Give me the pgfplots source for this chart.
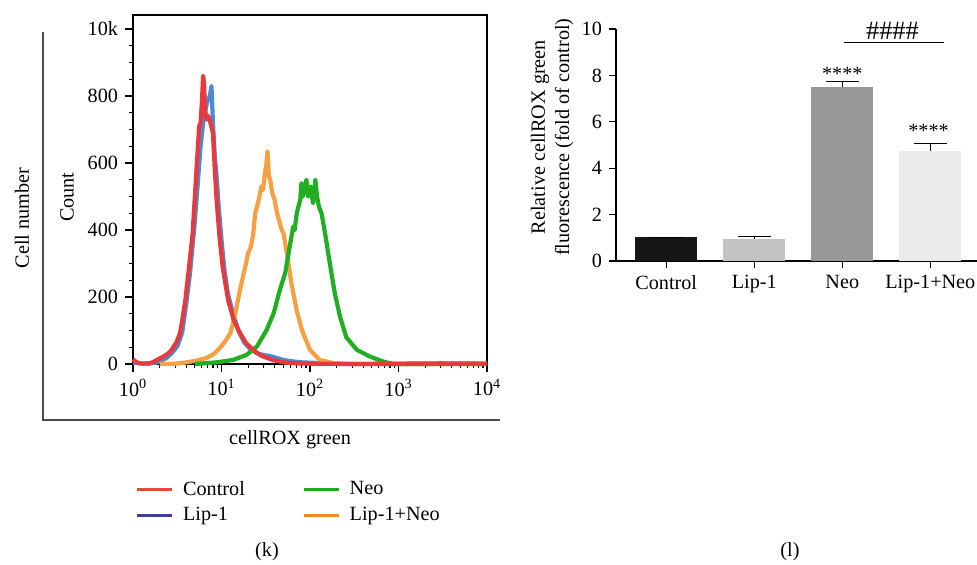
\documentclass[border=0pt]{standalone}
\usepackage{fontspec}
\setmainfont{Liberation Serif}
\usepackage{pgfplots}
\pgfplotsset{compat=1.18}

\definecolor{ctrlred}{HTML}{E63A3C}
\definecolor{lipblue}{HTML}{4C8AD6}
\definecolor{neogreen}{HTML}{22AE22}
\definecolor{combo}{HTML}{F5A043}
\definecolor{legred}{HTML}{E64A36}
\definecolor{legblue}{HTML}{3E3E9C}
\definecolor{leggreen}{HTML}{1EAA1E}
\definecolor{legorange}{HTML}{F08A1C}
\definecolor{barctrl}{HTML}{161616}
\definecolor{barlip}{HTML}{C2C2C3}
\definecolor{barneo}{HTML}{979797}
\definecolor{barcombo}{HTML}{EBEBEB}

\begin{document}
\fontsize{11.5}{13.8}\selectfont
\begin{tikzpicture}
\useasboundingbox (0,0) rectangle (19.54,-11.28);

% frame round panel k
\draw[black!70, line width=0.9pt] (0.86,-0.64) -- (0.86,-8.4) -- (10.0,-8.4);
\node[rotate=90] at (0.44,-4.36) {Cell number};
\node at (5.8,-8.8) {cellROX green};
\node at (5.34,-11.04) {(k)};
\node at (15.8,-11.04) {(l)};

% (k) histogram
\begin{axis}[
  at={(2.66cm,-7.28cm)}, anchor=south west,
  scale only axis, width=7.08cm, height=6.98cm,
  xmode=log, xmin=1, xmax=10000,
  ymin=0, ymax=1042,
  clip=false,
  axis line style={line width=0.7pt},
  tick align=outside, tick pos=left,
  major tick length=4.5pt, minor tick length=2.5pt,
  every tick/.style={black, line width=0.7pt},
  xtick={1,10,100,1000,10000},
  xticklabels={10\textsuperscript{0},10\textsuperscript{1},10\textsuperscript{2},10\textsuperscript{3},10\textsuperscript{4}},
  ytick={0,200,400,600,800,1000},
  yticklabels={0,200,400,600,800,10k},
  minor y tick num=3,
  ylabel={Count},
  ylabel style={at={(axis description cs:-0.186,0.478)}, anchor=center},
  legend columns=2, transpose legend,
  legend image code/.code={\draw[#1] (0cm,0cm) -- (0.7cm,0cm); \path (0.82cm,0cm);},
  legend style={draw=none, fill=none, at={(axis description cs:-0.008,-0.315)},
    anchor=north west, row sep=1pt,
    /tikz/every even column/.append style={column sep=1.08cm}},
  legend cell align=left,
]
% Lip-1 (drawn first, under Control)
\addplot[forget plot, lipblue, line width=2.4pt, line join=round] coordinates {
(1,4)(1.2,2)(1.5,1)(1.8,4)(2.0,8)(2.4,18)(2.8,35)(3.2,55)(3.6,95)(4.0,180)
(4.4,270)(4.9,400)(5.4,540)(5.8,650)(6.2,720)(6.6,760)(7.0,790)(7.4,800)
(7.7,830)(8.0,720)(8.4,620)(8.8,560)(9.3,470)(10,370)(10.8,280)(11.8,210)
(13.5,150)(15.5,100)(18,65)(21,45)(25,32)(30,27)(35,24)(42,18)(50,12)(63,8)
(80,5)(100,4)(150,2)(250,0)(1000,0)(10000,1)};
% Lip-1+Neo
\addplot[forget plot, combo, line width=2.4pt, line join=round] coordinates {
(2,0)(3,1)(4.05,5)(5.2,10)(6.76,18)(8.2,30)(9.55,47)(11,68)(12.6,92)(14.1,142)
(16.2,222)(18.6,292)(20,331)(21.5,350)(22.9,390)(24,450)(25.2,470)(26.3,490)
(27.3,510)(28.2,530)(29.5,520)(30.9,570)(32,590)(33.1,635)(34.2,560)(35.5,550)
(37.5,510)(39.8,490)(42.5,450)(45.7,420)(48,400)(50.1,390)(55,330)(61.7,240)
(70.8,160)(81.3,100)(100,42)(129,12)(182,3)(300,0)(10000,0)};
% Neo
\addplot[forget plot, neogreen, line width=2.4pt, line join=round] coordinates {
(5,0)(8.81,5)(13.5,12)(19.1,27)(25.1,52)(32.4,102)(38.9,152)(45.7,222)(52.5,272)
(58.9,350)(64.6,410)(67,400)(70.8,450)(74,470)(77.6,490)(80,540)(83,500)
(87.1,530)(91.2,550)(95,500)(98,520)(102,530)(108,480)(115,550)(120,500)
(126,470)(135,450)(148,390)(170,290)(191,210)(219,140)(257,80)(339,42)
(479,22)(676,7)(871,0)(10000,0)};
% Control
\addplot[forget plot, ctrlred, line width=2.4pt, line join=round] coordinates {
(1,14)(1.06,8)(1.15,3)(1.3,1)(1.5,2)(1.7,6)(1.86,12)(2.2,22)(2.5,32)(2.73,42)
(3.1,65)(3.4,92)(3.65,140)(3.9,190)(4.3,290)(4.72,390)(5.0,500)(5.24,590)
(5.6,710)(5.8,720)(6.0,780)(6.2,860)(6.35,840)(6.5,760)(6.8,730)(7.1,740)
(7.5,720)(8.0,690)(8.4,580)(8.8,490)(9.5,380)(10.3,290)(11.9,190)(13.8,130)
(16.2,92)(19,62)(22.8,42)(28,25)(38,12)(50,5)(70,2)(100,1)(300,0)(1000,1)
(3000,2)(10000,1)};
\addlegendimage{legred, line width=1.6pt}
\addlegendentry{Control}
\addlegendimage{legblue, line width=1.6pt}
\addlegendentry{Lip-1}
\addlegendimage{leggreen, line width=1.6pt}
\addlegendentry{Neo}
\addlegendimage{legorange, line width=1.6pt}
\addlegendentry{Lip-1+Neo}
\end{axis}

% (l) bar chart
\begin{axis}[
  at={(12.32cm,-5.22cm)}, anchor=south west,
  scale only axis, width=7.22cm, height=4.64cm,
  xmin=-0.57, xmax=3.53, ymin=0, ymax=10,
  axis lines=left, axis line style={-, line width=0.6pt},
  clip=false,
  ybar, bar width=1.24cm, bar shift=0pt,
  xtick={0,1,2,3}, xticklabels={Control,Lip-1,Neo,Lip-1+Neo},
  ytick={0,2,4,6,8,10},
  tick align=outside, major tick length=4pt,
  every tick/.style={black, line width=0.6pt},
  /pgf/number format/assume math mode=true,
  ylabel={Relative cellROX green\\fluorescence (fold of control)},
  ylabel style={align=center, at={(axis description cs:-0.177,0.534)}, anchor=center},
  error bars/y dir=plus, error bars/y explicit,
  error bars/error mark options={rotate=90, mark size=9.5pt, line width=0.6pt},
  error bars/error bar style={line width=0.6pt},
]
\addplot[fill=barctrl, draw=none] coordinates {(0,1.02) +- (0,0)};
\addplot[fill=barlip, draw=none] coordinates {(1,0.97) +- (0,0.08)};
\addplot[fill=barneo, draw=none] coordinates {(2,7.49) +- (0,0.23)};
\addplot[fill=barcombo, draw=none] coordinates {(3,4.73) +- (0,0.34)};
\node at (axis cs:2,8.07) {****};
\node at (axis cs:2.98,5.62) {****};
\draw[line width=0.6pt] (axis cs:2.02,9.4) -- (axis cs:3.15,9.4);
\node[font=\fontsize{15}{16}\selectfont] at (axis cs:2.57,9.9) {\#\#\#\#};
\end{axis}
\end{tikzpicture}
\end{document}
